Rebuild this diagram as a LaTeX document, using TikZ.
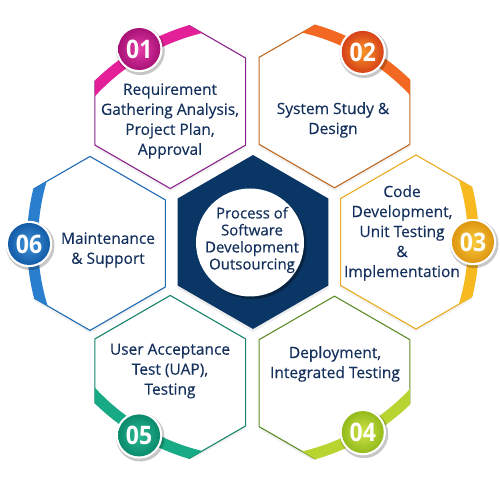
\documentclass[tikz,border=0pt]{standalone}
\usepackage{fontspec}
\setmainfont{Open Sans}
\newfontfamily\txtfont[FakeBold=0.35]{Open Sans}
\newfontfamily\numfont[FakeStretch=0.9]{Open Sans}
\usetikzlibrary{calc}
\definecolor{navy}{RGB}{10,54,102}
\definecolor{txt}{RGB}{20,48,92}
% 01 magenta
\definecolor{aband}{RGB}{228,32,152}
\definecolor{aline}{RGB}{140,35,140}
\definecolor{alight}{RGB}{230,60,168}
\definecolor{adark}{RGB}{168,18,118}
% 02 orange
\definecolor{bband}{RGB}{242,104,34}
\definecolor{bline}{RGB}{192,104,32}
\definecolor{blight}{RGB}{248,150,40}
\definecolor{bdark}{RGB}{214,66,24}
% 03 gold
\definecolor{cband}{RGB}{246,186,32}
\definecolor{cline}{RGB}{232,172,30}
\definecolor{clight}{RGB}{250,205,60}
\definecolor{cdark}{RGB}{222,150,18}
% 04 lime
\definecolor{dband}{RGB}{184,212,48}
\definecolor{dline}{RGB}{94,140,40}
\definecolor{dlight}{RGB}{205,228,70}
\definecolor{ddark}{RGB}{148,186,28}
% 05 teal
\definecolor{eband}{RGB}{24,170,132}
\definecolor{eline}{RGB}{22,132,106}
\definecolor{elight}{RGB}{44,186,146}
\definecolor{edark}{RGB}{10,138,108}
% 06 blue
\definecolor{fband}{RGB}{42,126,206}
\definecolor{fline}{RGB}{30,106,180}
\definecolor{flight}{RGB}{64,148,216}
\definecolor{fdark}{RGB}{20,92,168}
\tikzset{
  lbl/.style={font=\txtfont\fontsize{15.5}{20}\selectfont, text=txt, align=center, inner sep=0pt},
  clbl/.style={font=\txtfont\fontsize{15}{17}\selectfont, text=txt, align=center, inner sep=0pt},
  num/.style={font=\numfont\bfseries\fontsize{25.5}{26}\selectfont, text=white, inner sep=0pt},
}
\newcommand\hexpath[1]{($(#1)+(0,87)$) -- ++(210:87pt) -- ++(270:87pt) -- ++(330:87pt) -- ++(30:87pt) -- ++(90:87pt) -- cycle}
\newcommand\outerhex[4]{%
  \coordinate (H#3) at ($(C)+(#1:163pt)$);
  \coordinate (B#3) at ($(C)+(#1:#4pt)$);
  \begin{scope}
    \clip (C) circle (226pt);
    \fill[black, opacity=0.05] ($(H#3)+(0,-3)$) ++(0,87) -- ++(210:87pt) -- ++(270:87pt) -- ++(330:87pt) -- ++(30:87pt) -- ++(90:87pt) -- cycle;
    \draw[#2line, line width=1.1pt, fill=white] \hexpath{H#3};
  \end{scope}
  \begin{scope}
    \clip \hexpath{H#3};
    \fill[#2band, even odd rule] (C) circle (226pt) (C) circle (215pt);
  \end{scope}
  \fill[black, opacity=0.22] ($(B#3)+(1.2,-1.8)$) circle (24.3pt);
  \fill[white] (B#3) circle (23.2pt);
  \shade[inner color=#2light, outer color=#2dark] (B#3) circle (21pt);
  \node[num] (N#3) at (B#3) {#3};
}
\begin{document}
\begin{tikzpicture}[x=1pt,y=1pt]
\useasboundingbox (0,0) rectangle (500,500);
\fill[white] (0,0) rectangle (500,500);
\coordinate (C) at (253,258);
\outerhex{120.5}{a}{01}{224}
\outerhex{60}{b}{02}{219.5}
\outerhex{0}{c}{03}{220}
\outerhex{-60}{d}{04}{219.5}
\outerhex{-120.5}{e}{05}{224.5}
\outerhex{180.5}{f}{06}{224}
% centre
\fill[black, opacity=0.07] ($(C)+(0,-3)$) ++(0,87) -- ++(210:87pt) -- ++(270:87pt) -- ++(330:87pt) -- ++(30:87pt) -- ++(90:87pt) -- cycle;
\fill[navy] \hexpath{C};
\fill[black, opacity=0.35] (252.5,255) circle (54pt);
\fill[white] (250,257.5) circle (54pt);
\node[clbl] (ctr) at (252,260) {Process of\\Software\\Development\\Outsourcing};
% labels
\node[lbl] (t1) at (170,379) {Requirement\\Gathering Analysis,\\Project Plan,\\Approval};
\node[lbl] (t2) at (333,380) {System Study \&\\Design};
\node[lbl] (t3) at (402,267) {Code\\Development,\\Unit Testing\\\&\\Implementation};
\node[lbl] (t4) at (335,136) {Deployment,\\Integrated Testing};
\node[lbl] (t5) at (170,129) {User Acceptance\\Test (UAP),\\Testing};
\node[lbl] (t6) at (108,250) {Maintenance\\\& Support};
\end{tikzpicture}
\end{document}
